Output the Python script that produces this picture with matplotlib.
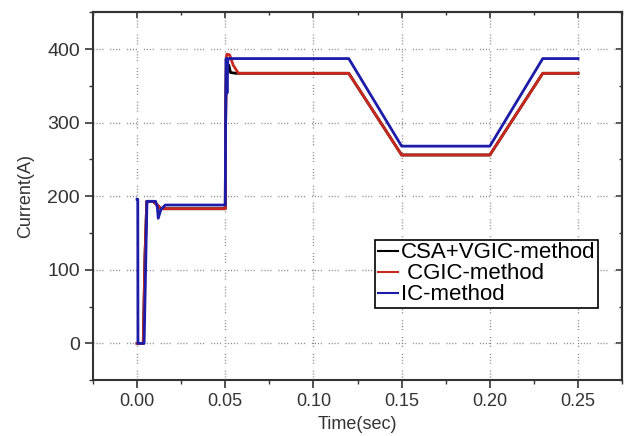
import numpy as np
import matplotlib.pyplot as plt
from matplotlib.ticker import MultipleLocator

plt.rcParams['font.family'] = ['Liberation Sans', 'DejaVu Sans']

# breakpoints (time in s, current in A)
t_csa = [0.0, 0.0035, 0.0045, 0.0055, 0.009, 0.0115, 0.0135, 0.05, 0.0502, 0.0506,
         0.0515, 0.052, 0.053, 0.056, 0.12, 0.15, 0.20, 0.23, 0.25]
i_csa = [0, 0, 120, 193, 193, 188, 183, 183, 300, 385, 372, 378, 368, 367, 367, 256, 256, 367, 367]

t_cgic = [0.0, 0.0035, 0.0045, 0.0055, 0.009, 0.0115, 0.0135, 0.05, 0.0502, 0.0506,
          0.051, 0.0525, 0.0545, 0.0575, 0.12, 0.15, 0.20, 0.23, 0.25]
i_cgic = [0, 0, 120, 193, 193, 188, 183, 183, 300, 388, 393, 392, 378, 367, 367, 256, 256, 367, 367]

t_ic = [0.0, 0.0004, 0.0005, 0.004, 0.0056, 0.0105, 0.0115, 0.012, 0.0135, 0.016, 0.05,
        0.0502, 0.0505, 0.051, 0.0515, 0.052, 0.12, 0.15, 0.20, 0.23, 0.25]
i_ic = [196, 196, 0, 0, 193, 193, 185, 170, 182, 188, 188, 300, 387, 340, 387, 387, 387,
        268, 268, 387, 387]

fig = plt.figure(figsize=(6.24, 4.36), dpi=100)
ax = fig.add_axes([0.149, 0.128, 0.848, 0.844])

ax.plot(t_csa, i_csa, color='black', lw=2, label='CSA+VGIC-method')
ax.plot(t_cgic, i_cgic, color='#c8281e', lw=2, label=' CGIC-method')
ax.plot(t_ic, i_ic, color='#1c1ca8', lw=2, label='IC-method')

ax.set_xlim(-0.025, 0.275)
ax.set_ylim(-50, 450)
ax.xaxis.set_major_locator(MultipleLocator(0.05))
ax.xaxis.set_minor_locator(MultipleLocator(0.025))
ax.yaxis.set_major_locator(MultipleLocator(100))
ax.yaxis.set_minor_locator(MultipleLocator(50))
ax.xaxis.set_major_formatter(plt.FormatStrFormatter('%.2f'))

# dotted grid in small groups, like the original
ax.grid(True, which='major', color='#8a8a8a', lw=1,
        linestyle=(0, (0.8, 1.3, 0.8, 1.3, 0.8, 1.3, 0.8, 5)))
ax.tick_params(which='major', direction='out', length=6, width=1.2, colors='#333333')
ax.tick_params(which='minor', direction='out', length=3, width=1, colors='#333333')
ax.tick_params(axis='x', labelsize=13)
ax.tick_params(axis='y', labelsize=14)
for s in ax.spines.values():
    s.set_linewidth(1.5)
    s.set_color('#333333')

# inward ticks on top and right frame
tx = ax.secondary_xaxis('top')
tx.xaxis.set_major_locator(MultipleLocator(0.05))
tx.xaxis.set_minor_locator(MultipleLocator(0.025))
tx.tick_params(which='both', direction='in', labeltop=False, colors='#333333')
tx.tick_params(which='major', length=4, width=1.2)
tx.tick_params(which='minor', length=2, width=1)
ty = ax.secondary_yaxis('right')
ty.yaxis.set_major_locator(MultipleLocator(100))
ty.yaxis.set_minor_locator(MultipleLocator(50))
ty.tick_params(which='both', direction='in', labelright=False, colors='#333333')
ty.tick_params(which='major', length=4, width=1.2)
ty.tick_params(which='minor', length=2, width=1)
for sec in (tx, ty):
    for s in sec.spines.values():
        s.set_linewidth(1.5)
        s.set_color('#333333')

ax.set_xlabel('Time(sec)', fontsize=13, color='#333333', labelpad=4)
ax.set_ylabel('Current(A)', fontsize=13, color='#333333', labelpad=9)

leg = ax.legend(loc='lower left', bbox_to_anchor=(0.533, 0.196), fontsize=16,
                handlelength=0.9, handletextpad=0.15, labelspacing=0.0,
                borderpad=0.12, borderaxespad=0, fancybox=False, framealpha=1)
leg.get_frame().set_edgecolor('black')
leg.get_frame().set_linewidth(1.2)
for h in leg.get_lines():
    h.set_linewidth(1.5)

fig.savefig('out.png', dpi=100)
